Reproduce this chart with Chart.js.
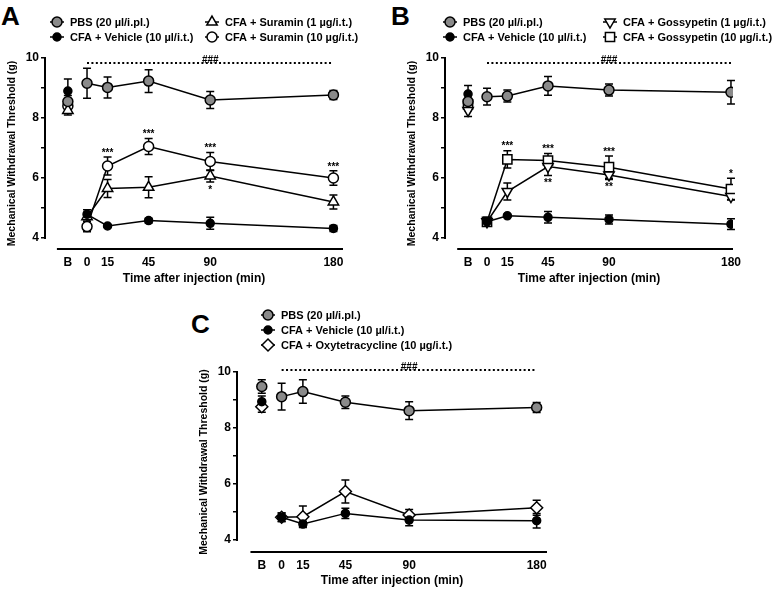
<!DOCTYPE html>
<html>
<head>
<meta charset="utf-8">
<script src="https://cdn.jsdelivr.net/npm/chart.js@4.4.0/dist/chart.umd.min.js"></script>
<style>
  body { margin: 0; background: #fff; width: 778px; height: 589px; position: relative; overflow: hidden; font-family: "Liberation Sans", Arial, sans-serif; }
  canvas { position: absolute; }
  .letter { position: absolute; font-weight: bold; font-size: 26px; line-height: 26px; }
</style>
</head>
<body>
<div class="letter" style="left:1px;top:3px">A</div>
<div class="letter" style="left:391px;top:3px">B</div>
<div class="letter" style="left:191px;top:311px">C</div>
<canvas id="chartA" width="390" height="287" style="left:0;top:0"></canvas>
<canvas id="chartB" width="388" height="287" style="left:390px;top:0"></canvas>
<canvas id="chartC" width="420" height="289" style="left:180px;top:300px"></canvas>
<script>
// Time points (B = baseline, drawn left of 0)
const timeLabels = ["B", "0", "15", "45", "90", "180"];
const timePoints = [-14, 0, 15, 45, 90, 180];
const yTicks = [4, 5, 6, 7, 8, 9, 10];

// Panel A - Suramin
const pbsA = [8.55, 9.16, 9.02, 9.23, 8.6, 8.77];
const pbsAErr = [0.2, 0.5, 0.35, 0.38, 0.28, 0.15];
const vehA = [8.9, 4.79, 4.4, 4.58, 4.49, 4.32];
const vehAErr = [0.4, 0.15, 0.05, 0.08, 0.2, 0.1];
const sur1A = [8.25, 4.71, 5.65, 5.69, 6.07, 5.2];
const sur1AErr = [0.15, 0.15, 0.3, 0.35, 0.2, 0.23];
const sur10A = [8.4, 4.38, 6.4, 7.05, 6.55, 6.0];
const sur10AErr = [0.2, 0.17, 0.3, 0.27, 0.3, 0.24];
const hashA = 9.83;
const starsA = [
  { set: 3, idx: 2, text: "***", side: "up" },
  { set: 3, idx: 3, text: "***", side: "up" },
  { set: 3, idx: 4, text: "***", side: "up" },
  { set: 3, idx: 5, text: "***", side: "up" },
  { set: 2, idx: 4, text: "*", side: "down" }
];

// Panel B - Gossypetin
const pbsB = [8.55, 8.71, 8.73, 9.07, 8.93, 8.86];
const pbsBErr = [0.2, 0.28, 0.2, 0.31, 0.2, 0.39];
const vehB = [8.8, 4.54, 4.74, 4.69, 4.62, 4.46];
const vehBErr = [0.28, 0.1, 0.05, 0.19, 0.15, 0.18];
const goss1B = [8.25, 4.54, 5.55, 6.38, 6.1, 5.38];
const goss1BErr = [0.2, 0.1, 0.28, 0.3, 0.15, 0.1];
const goss10B = [8.45, 4.54, 6.62, 6.58, 6.36, 5.63];
const goss10BErr = [0.2, 0.15, 0.29, 0.24, 0.37, 0.36];
const hashB = 9.83;
const starsB = [
  { set: 3, idx: 2, text: "***", side: "up" },
  { set: 3, idx: 3, text: "***", side: "up" },
  { set: 3, idx: 4, text: "***", side: "up" },
  { set: 3, idx: 5, text: "*", side: "up" },
  { set: 2, idx: 3, text: "**", side: "down" },
  { set: 2, idx: 4, text: "**", side: "down" }
];

// Panel C - Oxytetracycline
const pbsC = [9.48, 9.12, 9.3, 8.92, 8.62, 8.73];
const pbsCErr = [0.24, 0.48, 0.42, 0.22, 0.32, 0.18];
const vehC = [8.94, 4.81, 4.57, 4.95, 4.71, 4.69];
const vehCErr = [0.2, 0.15, 0.1, 0.18, 0.2, 0.26];
const oxyC = [8.76, 4.81, 4.83, 5.73, 4.89, 5.15];
const oxyCErr = [0.2, 0.15, 0.38, 0.41, 0.2, 0.27];
const hashC = 10.07;
const starsC = [];

const FONT = '"Liberation Sans", Arial, sans-serif';

// marker styles
const sPbs = { shape: "circle", r: 5, fill: "#8a8a8a" };
const sVeh = { shape: "circle", r: 4, fill: "#000" };
const sCircleOpen = { shape: "circle", r: 5, fill: "#fff" };
const sTriUp = { shape: "triangle", r: 6, fill: "#fff" };
const sTriDown = { shape: "triangle", r: 6, fill: "#fff", rotation: 180 };
const sSquare = { shape: "rect", r: 6.5, fill: "#fff" };
const sDiamond = { shape: "rectRot", r: 6, fill: "#fff" };

function series(label, values, errors, style) {
  return {
    label: label,
    errors: errors,
    data: timePoints.map((t, i) => ({ x: t, y: values[i] })),
    borderColor: "#000",
    borderWidth: 1.5,
    tension: 0,
    fill: false,
    pointStyle: style.shape,
    pointRotation: style.rotation || 0,
    pointRadius: style.r,
    pointBorderWidth: 1.5,
    pointBackgroundColor: style.fill,
    pointBorderColor: "#000",
    segment: { borderColor: c => c.p0.parsed.x < 0 ? "rgba(0,0,0,0)" : "#000" }
  };
}

function drawMarker(ctx, ds, x, y) {
  ctx.save();
  ctx.fillStyle = ds.pointBackgroundColor;
  ctx.strokeStyle = "#000";
  ctx.lineWidth = ds.pointBorderWidth;
  Chart.helpers.drawPoint(ctx, {
    pointStyle: ds.pointStyle, rotation: ds.pointRotation,
    radius: ds.pointRadius, borderWidth: ds.pointBorderWidth
  }, x, y);
  ctx.restore();
}

const decor = {
  id: "decor",
  beforeDatasetsDraw(chart) {
    const ctx = chart.ctx, xs = chart.scales.x, ys = chart.scales.y;
    const o = chart.options.plugins.decor;
    const area = chart.chartArea;
    ctx.save();
    ctx.strokeStyle = "#000";
    // axis lines
    ctx.lineWidth = 2;
    ctx.beginPath();
    ctx.moveTo(area.left, ys.getPixelForValue(10) - 1);
    ctx.lineTo(area.left, ys.getPixelForValue(4) + 1);
    ctx.moveTo(xs.getPixelForValue(o.axisStart), area.bottom);
    ctx.lineTo(area.right, area.bottom);
    ctx.stroke();
    // error bars
    ctx.lineWidth = 1.5;
    chart.data.datasets.forEach((ds, i) => {
      const meta = chart.getDatasetMeta(i);
      ds.errors.forEach((e, j) => {
        const px = meta.data[j].x;
        const v = ds.data[j].y;
        const top = ys.getPixelForValue(v + e), bot = ys.getPixelForValue(v - e);
        ctx.beginPath();
        ctx.moveTo(px, top); ctx.lineTo(px, bot);
        ctx.moveTo(px - 4, top); ctx.lineTo(px + 4, top);
        ctx.moveTo(px - 4, bot); ctx.lineTo(px + 4, bot);
        ctx.stroke();
      });
    });
    ctx.restore();
  },
  afterDatasetsDraw(chart) {
    const ctx = chart.ctx, xs = chart.scales.x, ys = chart.scales.y;
    const o = chart.options.plugins.decor;
    ctx.save();
    // ### significance line
    const hy = ys.getPixelForValue(o.hash);
    ctx.strokeStyle = "#000";
    ctx.lineWidth = 2;
    ctx.setLineDash([2, 2.4]);
    ctx.beginPath();
    ctx.moveTo(xs.getPixelForValue(0), hy);
    ctx.lineTo(xs.getPixelForValue(180), hy);
    ctx.stroke();
    ctx.setLineDash([]);
    ctx.fillStyle = "#000";
    ctx.font = "bold 10px " + FONT;
    ctx.textAlign = "center";
    ctx.textBaseline = "bottom";
    ctx.fillText("###", xs.getPixelForValue(90), hy + 2);
    // stars
    ctx.font = "bold 10px " + FONT;
    o.stars.forEach(s => {
      const ds = chart.data.datasets[s.set];
      const v = ds.data[s.idx].y, e = ds.errors[s.idx];
      const px = chart.getDatasetMeta(s.set).data[s.idx].x;
      if (s.side === "up") {
        ctx.textBaseline = "bottom";
        ctx.fillText(s.text, px, ys.getPixelForValue(v + e) + 1);
      } else {
        ctx.textBaseline = "top";
        ctx.fillText(s.text, px, ys.getPixelForValue(v - e) + 3);
      }
    });
    // legend
    ctx.textAlign = "left";
    ctx.textBaseline = "middle";
    ctx.font = "bold 11px " + FONT;
    chart.data.datasets.forEach((ds, i) => {
      const [mx, my] = o.legend[i];
      ctx.lineWidth = 1.5;
      ctx.beginPath();
      ctx.moveTo(mx - 7, my); ctx.lineTo(mx + 7, my);
      ctx.stroke();
      drawMarker(ctx, ds, mx, my);
      ctx.fillText(ds.label, mx + 13, my + 0.5);
    });
    ctx.restore();
  }
};

function makeChart(id, datasets, cfg) {
  return new Chart(document.getElementById(id), {
    type: "line",
    data: { datasets: datasets },
    plugins: [decor],
    options: {
      responsive: false,
      animation: false,
      events: [],
      layout: { padding: { left: cfg.padLeft, right: cfg.padRight, top: cfg.padTop, bottom: 0 } },
      plugins: {
        legend: { display: false },
        tooltip: { enabled: false },
        decor: { axisStart: -22, hash: cfg.hash, stars: cfg.stars, legend: cfg.legend }
      },
      scales: {
        x: {
          type: "linear",
          min: cfg.xMin, max: cfg.xMax,
          afterFit: s => { s.height = cfg.xHeight; },
          afterBuildTicks: s => { s.ticks = timePoints.map(v => ({ value: v })); },
          grid: { display: false, drawTicks: false },
          border: { display: false },
          ticks: {
            padding: 6,
            color: "#000",
            font: { family: FONT, size: 12, weight: "bold" },
            callback: (v, i) => timeLabels[i]
          },
          title: {
            display: true,
            text: "Time after injection (min)",
            color: "#000",
            padding: { top: 0, bottom: 1 },
            font: { family: FONT, size: 12, weight: "bold" }
          }
        },
        y: {
          min: cfg.yMin, max: 10,
          afterFit: s => { s.width = 45; },
          afterBuildTicks: s => { s.ticks = yTicks.map(v => ({ value: v })); },
          grid: { display: true, drawOnChartArea: false, drawTicks: true, tickLength: 4, color: "#000", lineWidth: 1.5 },
          border: { display: false },
          ticks: {
            padding: 2,
            color: "#000",
            font: { family: FONT, size: 12, weight: "bold" },
            callback: v => (v % 2 === 0 ? v : "")
          },
          title: {
            display: true,
            text: "Mechanical Withdrawal Threshold (g)",
            color: "#000",
            padding: { top: 6, bottom: 0 },
            font: { family: FONT, size: 10.5, weight: "bold" }
          }
        }
      }
    }
  });
}

makeChart("chartA", [
  series("PBS (20 \u00b5l/i.pl.)", pbsA, pbsAErr, sPbs),
  series("CFA + Vehicle (10 \u00b5l/i.t.)", vehA, vehAErr, sVeh),
  series("CFA + Suramin (1 \u00b5g/i.t.)", sur1A, sur1AErr, sTriUp),
  series("CFA + Suramin (10 \u00b5g/i.t.)", sur10A, sur10AErr, sCircleOpen)
], {
  padLeft: 0, padRight: 47, padTop: 58, xHeight: 38,
  xMin: -30.7, xMax: 187, yMin: 3.633,
  hash: hashA, stars: starsA,
  legend: [[57, 22], [57, 37], [212, 22], [212, 37]]
});

makeChart("chartB", [
  series("PBS (20 \u00b5l/i.pl.)", pbsB, pbsBErr, sPbs),
  series("CFA + Vehicle (10 \u00b5l/i.t.)", vehB, vehBErr, sVeh),
  series("CFA + Gossypetin (1 \u00b5g/i.t.)", goss1B, goss1BErr, sTriDown),
  series("CFA + Gossypetin (10 \u00b5g/i.t.)", goss10B, goss10BErr, sSquare)
], {
  padLeft: 10, padRight: 45, padTop: 58, xHeight: 38,
  xMin: -31, xMax: 181.5, yMin: 3.633,
  hash: hashB, stars: starsB,
  legend: [[60, 22], [60, 37], [220, 22], [220, 37]]
});

makeChart("chartC", [
  series("PBS (20 \u00b5l/i.pl.)", pbsC, pbsCErr, sPbs),
  series("CFA + Vehicle (10 \u00b5l/i.t.)", vehC, vehCErr, sVeh),
  series("CFA + Oxytetracycline (10 \u00b5g/i.t.)", oxyC, oxyCErr, sDiamond)
], {
  padLeft: 12, padRight: 53, padTop: 72, xHeight: 37,
  xMin: -31.5, xMax: 187.3, yMin: 3.571,
  hash: hashC, stars: starsC,
  legend: [[88, 15], [88, 30], [88, 45]]
});
</script>
</body>
</html>
